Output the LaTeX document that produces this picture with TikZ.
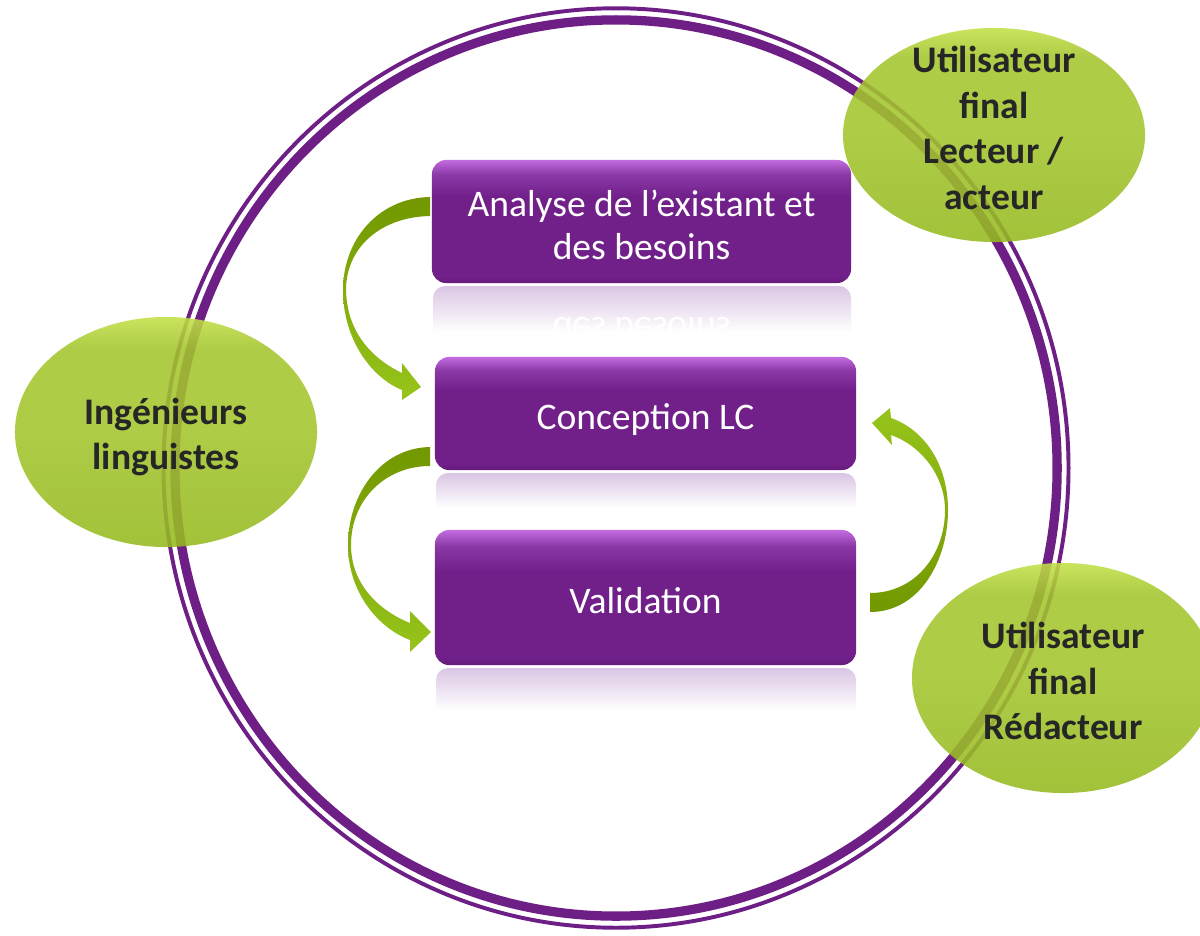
\documentclass[tikz,border=0pt]{standalone}
\usepackage{fontspec}
\setmainfont{Carlito}
\usetikzlibrary{shapes.geometric}
\definecolor{ringc}{HTML}{6E1F86}
\definecolor{pdark}{HTML}{651C7B}
\definecolor{pbase}{HTML}{71208A}
\definecolor{pmid}{HTML}{8A38A6}
\definecolor{plight}{HTML}{C26CE0}
\definecolor{refl}{HTML}{DAC6E4}
\definecolor{gtop}{HTML}{C3E047}
\definecolor{gmid}{HTML}{A3C52D}
\definecolor{gbot}{HTML}{96BA20}
\definecolor{adark}{HTML}{729700}
\definecolor{alight}{HTML}{97C41C}
\definecolor{etxt}{HTML}{262626}
\pgfdeclareverticalshading{boxshade}{100bp}{color(0bp)=(pdark); color(25bp)=(pdark); color(28bp)=(pbase); color(60bp)=(pbase); color(69bp)=(pmid); color(75bp)=(plight); color(100bp)=(plight)}
\pgfdeclareverticalshading{ellshade}{100bp}{color(0bp)=(gbot); color(25bp)=(gbot); color(50bp)=(gmid); color(68bp)=(gmid); color(75bp)=(gtop); color(100bp)=(gtop)}
\pgfdeclareverticalshading{reflshade}{100bp}{color(0bp)=(white); color(25bp)=(white); color(45bp)=(white!60!refl); color(75bp)=(refl); color(100bp)=(refl)}
\begin{document}
\begin{tikzpicture}[x=0.025cm,y=-0.025cm,
  stepbox/.style={rectangle, rounded corners=0.35cm, shading=boxshade, inner sep=0pt},
  boxtext/.style={text=white, align=center, font=\fontsize{26.7}{30.5}\selectfont},
  reflbox/.style={shading=reflshade, draw=none},
  actor/.style={ellipse, shading=ellshade, fill opacity=0.88, inner sep=0pt},
  actortext/.style={text=etxt, align=center, font=\bfseries\fontsize{26.7}{32.5}\selectfont}]
\clip (0,0) rectangle (1200,935);
\fill[white] (0,0) rectangle (1200,935);
% ring
\draw[ringc, line width=6.6pt] (616,468) ellipse [x radius=11.025cm, y radius=11.2cm];
\draw[ringc, line width=2.8pt] (616,468) ellipse [x radius=11.31cm, y radius=11.49cm];
% reflections
\shade[reflbox] (433,332) -- (433,300) [rounded corners=0.3cm] -- (433,286) -- (851,286) [sharp corners] -- (851,300) -- (851,332) -- cycle;
\shade[reflbox] (436,508) -- (436,485) [rounded corners=0.3cm] -- (436,473) -- (856,473) [sharp corners] -- (856,485) -- (856,508) -- cycle;
\shade[reflbox] (436,710) -- (436,685) [rounded corners=0.3cm] -- (436,668) -- (856,668) [sharp corners] -- (856,685) -- (856,710) -- cycle;
\begin{scope}
  \clip (433,302) rectangle (851,330);
  \node[text=white, yscale=-1, font=\fontsize{26.7}{30.5}\selectfont] (mirror) at (641.5,330) {des besoins};
\end{scope}
% boxes
\node[stepbox, minimum width=10.475cm, minimum height=3.075cm] (b1) at (641.5,221.5) {};
\node[stepbox, minimum width=10.525cm, minimum height=2.825cm] (b2) at (645.5,413.5) {};
\node[stepbox, minimum width=10.525cm, minimum height=3.375cm] (b3) at (645.5,597.5) {};
\node[boxtext] (l1) at (641.5,225) {Analyse de l’existant et\\des besoins};
\node[boxtext] (l2) at (645.5,419.5) {Conception LC};
\node[boxtext] (l3) at (645.5,601) {Validation};
% curved arrows
\shade[top color=adark, bottom color=alight] (430,197) .. controls (378,198) and (343,240) .. (343,290)
  .. controls (343,340) and (372,378) .. (402,390) -- (402,400) -- (421,387) -- (402,363) -- (402,373)
  .. controls (375,360) and (347,335) .. (346,290) .. controls (346,248) and (380,217) .. (430,216) -- cycle;
\shade[top color=adark, bottom color=alight] (430,447) .. controls (380,448) and (348,495) .. (348,545)
  .. controls (348,592) and (378,628) .. (410,640) -- (410,652) -- (431,632) -- (410,611) -- (410,623)
  .. controls (380,611) and (351,585) .. (351,545) .. controls (351,500) and (385,466) .. (430,466) -- cycle;
\shade[top color=alight, bottom color=adark] (870,612) .. controls (920,612) and (948,560) .. (948,510)
  .. controls (948,465) and (925,430) .. (891,418) -- (890,408) -- (872,423) -- (892,445) -- (891,435)
  .. controls (920,445) and (945,475) .. (945,510) .. controls (945,555) and (915,593) .. (870,593) -- cycle;
% actors
\node[actor, minimum width=7.55cm, minimum height=5.75cm] (e1) at (166,432) {};
\node[actor, minimum width=7.55cm, minimum height=5.35cm] (e2) at (994,135) {};
\node[actor, minimum width=7.55cm, minimum height=5.75cm] (e3) at (1063,678) {};
\node[actortext] (t1) at (166,437) {Ingénieurs\\linguistes};
\node[actortext] (t2) at (994,128) {Utilisateur\\final\\Lecteur /\\acteur};
\node[actortext] (t3) at (1063,681) {Utilisateur\\final\\Rédacteur};
\end{tikzpicture}
\end{document}
